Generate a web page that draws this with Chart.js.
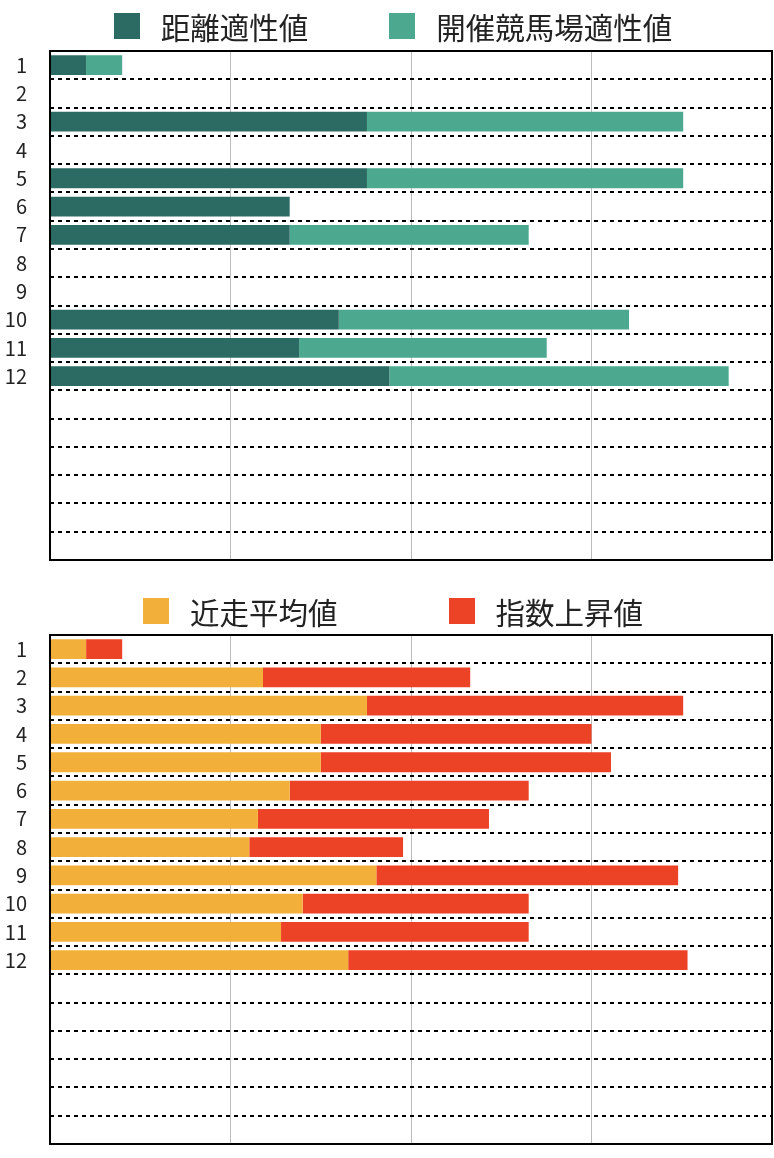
<!DOCTYPE html>
<html lang="ja">
<head>
<meta charset="utf-8">
<title>適性値チャート</title>
<script src="https://cdn.jsdelivr.net/npm/chart.js@4.4.1/dist/chart.umd.min.js"></script>
<style>
  html, body { margin: 0; padding: 0; background: #fff; }
  body { width: 774px; height: 1158px; position: relative; overflow: hidden;
         font-family: "Noto Sans CJK JP", "Noto Sans", sans-serif; }
  .block { position: absolute; left: 0; width: 774px; height: 595px; }
  .block canvas { position: absolute; left: 0; top: 0; }
  .legend { position: absolute; left: 12px; right: 0; display: flex;
            justify-content: center; align-items: center; }
  .legend .item { display: flex; align-items: center; }
  .legend .box { width: 26px; height: 26px; margin-right: 21px; }
  .legend .txt { font-size: 29.5px; line-height: 30px; color: #222; white-space: nowrap; }
</style>
</head>
<body>
<div class="block" id="blk1" style="top:0">
  <canvas id="c1" width="774" height="595"></canvas>
  <div class="legend" id="lg1" style="top:11px; gap:81px"></div>
</div>
<div class="block" id="blk2" style="top:584px">
  <canvas id="c2" width="774" height="595"></canvas>
  <div class="legend" id="lg2" style="top:12px; gap:111px"></div>
</div>
<script>
"use strict";
const $ = id => document.getElementById(id);

// row labels: 12 entries + 6 blank rows
const rows = ["1","2","3","4","5","6","7","8","9","10","11","12","","","","","",""];

/* ---------- top chart ---------- */
const distName = "距離適性値";
const distVals = [5.0, null, 43.9, null, 43.9, 33.2, 33.2, null, null, 40.0, 34.5, 47.0];
const courseName = "開催競馬場適性値";
const courseVals = [5.0, null, 43.8, null, 43.8, null, 33.1, null, null, 40.2, 34.3, 47.0];

/* ---------- bottom chart ---------- */
const recentName = "近走平均値";
const recentVals = [5.0, 29.5, 43.9, 37.5, 37.5, 33.2, 28.8, 27.6, 45.2, 35.0, 32.0, 41.3];
const riseName = "指数上昇値";
const riseVals = [5.0, 28.7, 43.8, 37.5, 40.2, 33.1, 32.0, 21.3, 41.8, 31.3, 34.3, 47.0];

const xTicks = [0, 25, 50, 75, 100];

const colors = { dist: "#2c6b63", course: "#4ca88e", recent: "#f2b03b", rise: "#ec4226" };

/* ---------- frame around plot area ---------- */
const frame = {
  id: "frame",
  afterDatasetsDraw(chart) {
    const { ctx, chartArea: a } = chart;
    ctx.save();
    ctx.strokeStyle = "#000";
    ctx.lineWidth = 2;
    ctx.setLineDash([]);
    ctx.strokeRect(a.left, a.top, a.right - a.left, a.bottom - a.top);
    ctx.restore();
  }
};

function legend(el, items) {
  items.forEach(([name, col]) => {
    const it = document.createElement("div");
    it.className = "item";
    it.innerHTML = `<span class="box" style="background:${col}"></span><span class="txt"></span>`;
    it.querySelector(".txt").textContent = name;
    $(el).appendChild(it);
  });
}

function makeChart(id, sets) {
  return new Chart($(id), {
    type: "bar",
    data: {
      labels: rows,
      datasets: sets.map(([label, vals, col]) => ({
        label, data: vals, backgroundColor: col, borderWidth: 0,
        barPercentage: 0.7, categoryPercentage: 1
      }))
    },
    options: {
      indexAxis: "y", responsive: false, animation: false,
      layout: { padding: { top: 51, right: 2, bottom: 0, left: 0 } },
      scales: {
        x: {
          stacked: true, min: xTicks[0], max: xTicks[xTicks.length - 1],
          afterBuildTicks: s => { s.ticks = xTicks.map(v => ({ value: v })); },
          afterFit: s => { s.height = 0; },
          ticks: { display: false },
          grid: { color: "#bbbbbb", lineWidth: 1, drawTicks: false },
          border: { display: false }
        },
        y: {
          stacked: true,
          afterFit: s => { s.width = 50; },
          ticks: { color: "#222", padding: 23, autoSkip: false,
                   font: { family: "'Noto Sans CJK JP', sans-serif", size: 20 } },
          grid: { offset: true, color: "#000", lineWidth: 2, drawTicks: false,
                  borderDash: [4, 4] },
          border: { display: false, dash: [4, 4] }
        }
      },
      plugins: { legend: { display: false }, tooltip: { enabled: false } }
    },
    plugins: [frame]
  });
}

legend("lg1", [[distName, colors.dist], [courseName, colors.course]]);
legend("lg2", [[recentName, colors.recent], [riseName, colors.rise]]);

makeChart("c1", [[distName, distVals, colors.dist], [courseName, courseVals, colors.course]]);
makeChart("c2", [[recentName, recentVals, colors.recent], [riseName, riseVals, colors.rise]]);
</script>
</body>
</html>
